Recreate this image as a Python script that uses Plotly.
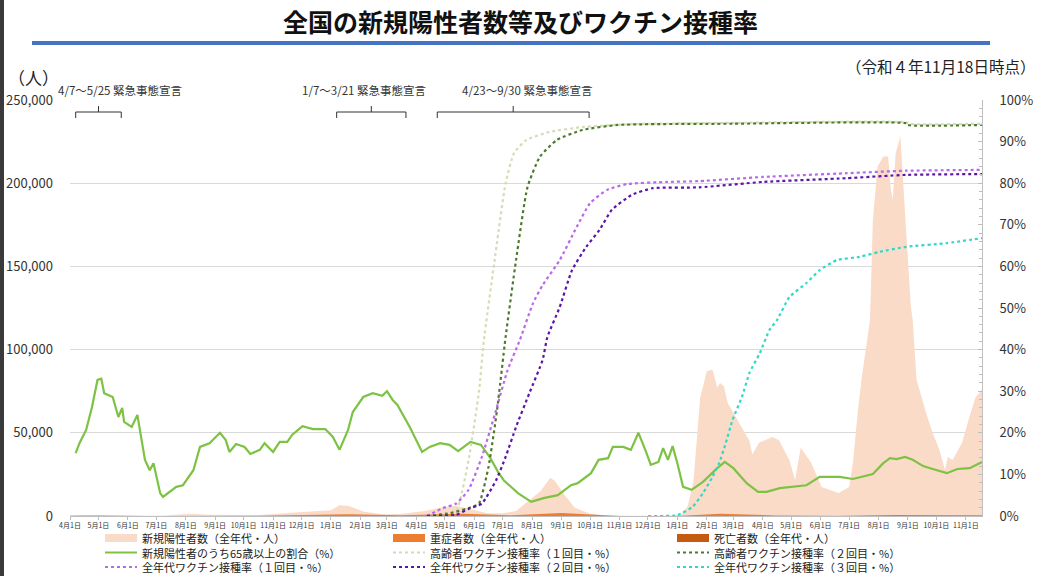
# 全国の新規陽性者数等及びワクチン接種率 (令和4年11月18日時点)

import pandas as pd
import plotly.graph_objs as go

FONT = "Noto Sans CJK JP"

# 新規陽性者数（全年代・人）
case_dates = ["2020-04-01", "2020-04-12", "2020-05-01", "2020-05-25", "2020-06-20", "2020-07-10",
              "2020-08-05", "2020-08-25", "2020-09-20", "2020-10-20", "2020-11-20", "2020-12-15",
              "2021-01-01", "2021-01-10", "2021-01-20", "2021-02-05", "2021-02-25", "2021-03-15",
              "2021-04-10", "2021-04-25", "2021-05-12", "2021-05-25", "2021-06-15", "2021-07-01",
              "2021-07-15", "2021-07-28", "2021-08-10", "2021-08-20", "2021-08-25", "2021-09-05",
              "2021-09-15", "2021-10-01", "2021-10-15", "2021-11-10", "2021-12-20", "2022-01-05",
              "2022-01-12", "2022-01-18", "2022-01-25", "2022-02-01", "2022-02-07", "2022-02-12",
              "2022-02-15", "2022-02-19", "2022-02-23", "2022-03-01", "2022-03-10", "2022-03-18",
              "2022-03-21", "2022-03-28", "2022-04-11", "2022-04-18", "2022-04-29", "2022-05-05",
              "2022-05-11", "2022-05-22", "2022-06-02", "2022-06-20", "2022-07-01", "2022-07-05",
              "2022-07-10", "2022-07-14", "2022-07-23", "2022-07-26", "2022-07-31", "2022-08-06",
              "2022-08-11", "2022-08-14", "2022-08-16", "2022-08-19", "2022-08-24", "2022-08-26",
              "2022-08-30", "2022-09-04", "2022-09-06", "2022-09-10", "2022-09-20", "2022-09-27",
              "2022-10-04", "2022-10-10", "2022-10-13", "2022-10-18", "2022-10-28", "2022-11-04",
              "2022-11-11", "2022-11-18"]
case_values = [300, 600, 300, 40, 70, 300,
               1400, 800, 500, 600, 2000, 2800,
               3500, 6500, 6000, 2500, 1000, 1200,
               3000, 4800, 6200, 4500, 1600, 1600,
               3000, 9000, 15000, 23000, 21000, 12000,
               5000, 1300, 500, 200, 200, 800,
               6000, 21000, 71000, 87000, 88000, 77000,
               80000, 78000, 68000, 62000, 53000, 45000,
               37000, 44000, 47500, 45700, 33700, 21600,
               41000, 32000, 17400, 13800, 17400, 31800,
               62000, 82000, 118000, 178000, 210000, 216000,
               216000, 196000, 190000, 218000, 228000, 208000,
               172000, 126000, 118000, 82000, 62000, 50000,
               40000, 27600, 35500, 33700, 44000, 58000,
               71000, 76000]

# 重症者数・死亡者数（全年代・人）
severe_dates = ["2020-04-01", "2020-05-01", "2020-07-01", "2020-08-20", "2020-10-15", "2021-01-20",
                "2021-03-15", "2021-05-20", "2021-07-10", "2021-09-01", "2021-11-01", "2022-01-01",
                "2022-02-15", "2022-04-15", "2022-06-20", "2022-08-20", "2022-10-15", "2022-11-18"]
severe_values = [100, 300, 50, 250, 150, 1000, 400, 1300, 400, 1800, 70, 40,
                 1400, 300, 60, 600, 150, 250]
death_values = [5, 20, 2, 12, 8, 90, 40, 110, 20, 60, 5, 2,
                240, 50, 15, 330, 60, 90]

# 新規陽性者のうち65歳以上の割合（%）
share_dates = ["2020-04-07", "2020-04-11", "2020-04-18", "2020-04-24", "2020-04-30", "2020-05-04",
               "2020-05-07", "2020-05-16", "2020-05-22", "2020-05-26", "2020-05-28", "2020-06-05",
               "2020-06-11", "2020-06-14", "2020-06-19", "2020-06-24", "2020-06-28", "2020-07-05",
               "2020-07-08", "2020-07-22", "2020-07-29", "2020-08-09", "2020-08-16", "2020-08-26",
               "2020-09-06", "2020-09-12", "2020-09-16", "2020-09-23", "2020-10-02", "2020-10-08",
               "2020-10-18", "2020-10-23", "2020-11-01", "2020-11-08", "2020-11-16", "2020-11-21",
               "2020-12-02", "2020-12-13", "2020-12-26", "2021-01-03", "2021-01-10", "2021-01-19",
               "2021-01-24", "2021-02-04", "2021-02-14", "2021-02-24", "2021-03-01", "2021-03-07",
               "2021-03-12", "2021-03-25", "2021-04-07", "2021-04-15", "2021-04-26", "2021-05-06",
               "2021-05-15", "2021-05-28", "2021-06-08", "2021-06-18", "2021-06-26", "2021-07-02",
               "2021-07-17", "2021-07-31", "2021-08-13", "2021-08-28", "2021-09-11", "2021-09-18",
               "2021-10-02", "2021-10-10", "2021-10-20", "2021-10-25", "2021-11-05", "2021-11-13",
               "2021-11-21", "2021-11-29", "2021-12-04", "2021-12-12", "2021-12-17", "2021-12-22",
               "2021-12-27", "2022-01-01", "2022-01-07", "2022-01-16", "2022-01-28", "2022-02-12",
               "2022-02-20", "2022-03-01", "2022-03-15", "2022-03-27", "2022-04-05", "2022-04-19",
               "2022-05-03", "2022-05-17", "2022-05-31", "2022-06-21", "2022-07-05", "2022-07-15",
               "2022-07-26", "2022-08-06", "2022-08-13", "2022-08-20", "2022-08-29", "2022-09-06",
               "2022-09-17", "2022-09-27", "2022-10-12", "2022-10-23", "2022-11-05", "2022-11-18"]
share_values = [15.1, 17.5, 20.7, 26.0, 32.7, 33.0,
                29.5, 28.6, 23.8, 26.0, 22.6, 21.4,
                24.3, 20.2, 13.5, 11.0, 12.7, 5.5,
                4.6, 7.0, 7.4, 11.0, 16.6, 17.5,
                20.0, 18.3, 15.4, 17.3, 16.6, 14.9,
                15.9, 17.5, 15.4, 17.8, 17.8, 19.5,
                21.6, 20.9, 20.9, 19.0, 15.9, 20.7,
                25.0, 28.6, 29.5, 28.9, 30.0, 27.9,
                26.7, 21.4, 15.4, 16.6, 17.5, 17.1,
                15.6, 17.8, 17.1, 13.9, 10.6, 8.6,
                5.5, 3.4, 4.3, 5.0, 7.4, 7.9,
                10.3, 13.5, 13.9, 16.6, 16.6, 15.9,
                20.0, 15.4, 12.3, 13.0, 16.3, 13.5,
                16.8, 12.7, 7.0, 6.3, 8.2, 11.5,
                13.0, 11.5, 7.9, 5.8, 5.8, 6.7,
                7.0, 7.4, 9.4, 9.4, 8.9, 9.4,
                10.1, 12.7, 13.9, 13.7, 14.2, 13.5,
                12.0, 11.3, 10.3, 11.3, 11.5, 13.0]

# 高齢者ワクチン接種率（１回目・%）
eld1_dates = ["2021-04-12", "2021-04-26", "2021-05-13", "2021-05-26", "2021-06-06", "2021-06-11",
              "2021-06-22", "2021-07-04", "2021-07-13", "2021-07-26", "2021-08-19", "2021-09-23",
              "2021-11-15", "2022-03-01", "2022-08-31", "2022-09-01", "2022-11-18"]
eld1_values = [0, 0.4, 1.4, 13.5, 30.0, 42.0, 60.8, 80.0, 87.3, 90.4, 92.3, 93.5,
               94.2, 94.5, 94.6, 94.3, 94.3]

# 高齢者ワクチン接種率（２回目・%）
eld2_dates = ["2021-04-12", "2021-05-07", "2021-05-30", "2021-06-06", "2021-06-16", "2021-06-25",
              "2021-07-04", "2021-07-15", "2021-07-27", "2021-08-09", "2021-08-27", "2021-09-23",
              "2021-10-30", "2022-03-01", "2022-08-31", "2022-09-01", "2022-11-18"]
eld2_values = [0, 0.7, 2.2, 3.0, 11.8, 25.5, 43.0, 61.5, 79.0, 86.3, 90.4, 92.8,
               94.0, 94.3, 94.4, 94.0, 94.0]

# 全年代ワクチン接種率（１回目・%）
all1_dates = ["2021-04-12", "2021-04-29", "2021-05-13", "2021-05-26", "2021-06-09", "2021-06-24",
              "2021-07-06", "2021-07-19", "2021-08-02", "2021-08-12", "2021-08-30", "2021-09-17",
              "2021-10-01", "2021-10-19", "2021-11-09", "2021-12-21", "2022-01-24", "2022-04-01",
              "2022-06-28", "2022-08-30", "2022-11-18"]
all1_values = [0, 1.9, 3.0, 6.3, 14.2, 25.5, 35.0, 42.3, 51.2, 55.5, 61.5, 69.5,
               75.2, 78.4, 79.8, 80.3, 80.5, 81.5, 82.4, 83.0, 83.2]

# 全年代ワクチン接種率（２回目・%）
all2_dates = ["2021-04-12", "2021-05-13", "2021-05-26", "2021-06-09", "2021-06-24", "2021-07-04",
              "2021-07-15", "2021-07-29", "2021-08-12", "2021-08-17", "2021-08-30", "2021-09-12",
              "2021-09-27", "2021-10-11", "2021-10-24", "2021-11-14", "2021-12-06", "2022-01-24",
              "2022-04-01", "2022-06-28", "2022-08-30", "2022-11-18"]
all2_values = [0, 0.3, 1.7, 3.0, 8.6, 14.2, 21.4, 29.5, 37.5, 43.0, 50.2, 59.1,
               64.7, 68.8, 73.6, 77.2, 78.8, 79.0, 80.3, 81.2, 82.0, 82.2]

# 全年代ワクチン接種率（３回目・%）
all3_dates = ["2021-12-01", "2022-01-01", "2022-01-17", "2022-01-28", "2022-02-07", "2022-02-14",
              "2022-02-21", "2022-02-28", "2022-03-10", "2022-03-18", "2022-03-29", "2022-04-08",
              "2022-04-16", "2022-04-29", "2022-05-17", "2022-05-31", "2022-06-18", "2022-07-12",
              "2022-08-02", "2022-08-30", "2022-10-12", "2022-11-18"]
all3_values = [0, 0.2, 2.2, 5.5, 9.4, 12.7, 17.5, 23.0, 28.6, 34.4, 39.2, 44.7,
               47.1, 52.6, 56.0, 59.1, 61.5, 62.3, 63.5, 64.7, 65.6, 66.8]

# 緊急事態宣言
decl_starts = ["2020-04-07", "2021-01-07", "2021-04-23"]
decl_ends = ["2020-05-25", "2021-03-21", "2021-09-30"]
decl_labels = ["4/7～5/25 緊急事態宣言", "1/7～3/21 緊急事態宣言", "4/23～9/30 緊急事態宣言"]


# page pixels -> paper coords (plot area 70..982 x 100..516)
def px_x(p):
    return (p - 70) / 912.0


def px_y(p):
    return (516 - p) / 416.0


fig = go.Figure()
legend_items = []  # (name, kind, color, dash)

fig.add_trace(go.Scatter(x=case_dates, y=case_values, mode="lines", fill="tozeroy",
                         line=dict(width=0, color="#FADBC8"), fillcolor="#FADBC8",
                         name="新規陽性者数（全年代・人）"))
legend_items.append(("新規陽性者数（全年代・人）", "rect", "#FADBC8", None))
fig.add_trace(go.Scatter(x=severe_dates, y=severe_values, mode="lines", fill="tozeroy",
                         line=dict(width=0, color="#ED7D31"), fillcolor="#ED7D31",
                         name="重症者数（全年代・人）"))
legend_items.append(("重症者数（全年代・人）", "rect", "#ED7D31", None))
fig.add_trace(go.Scatter(x=severe_dates, y=death_values, mode="lines", fill="tozeroy",
                         line=dict(width=0, color="#C55A11"), fillcolor="#C55A11",
                         name="死亡者数（全年代・人）"))
legend_items.append(("死亡者数（全年代・人）", "rect", "#C55A11", None))

fig.add_trace(go.Scatter(x=share_dates, y=share_values, mode="lines", yaxis="y2",
                         line=dict(width=2.2, color="#7DC242"),
                         name="新規陽性者のうち65歳以上の割合（%）"))
legend_items.append(("新規陽性者のうち65歳以上の割合（%）", "line", "#7DC242", "solid"))

dotted = [
    (eld1_dates, eld1_values, "#D3DDB5", "高齢者ワクチン接種率（１回目・%）"),
    (eld2_dates, eld2_values, "#4E7A2E", "高齢者ワクチン接種率（２回目・%）"),
    (all1_dates, all1_values, "#B968E8", "全年代ワクチン接種率（１回目・%）"),
    (all2_dates, all2_values, "#5E14A8", "全年代ワクチン接種率（２回目・%）"),
    (all3_dates, all3_values, "#2FD9C8", "全年代ワクチン接種率（３回目・%）"),
]
for xs, ys, col, nm in dotted:
    fig.add_trace(go.Scatter(x=xs, y=ys, mode="lines", yaxis="y2", name=nm,
                             line=dict(width=2.2, color=col, dash="dot", shape="spline", smoothing=0.5)))
    legend_items.append((nm, "line", col, "dot"))

# brackets for the declarations
shapes = []
annotations = []
for s, e, lab, sh in zip(decl_starts, decl_ends, decl_labels, [22, -7, 14]):
    s_ts, e_ts = pd.Timestamp(s), pd.Timestamp(e)
    mid = s_ts + (e_ts - s_ts) / 2
    ln = dict(color="#333333", width=1)
    shapes.append(dict(type="line", xref="x", yref="paper", x0=s_ts, x1=e_ts, y0=px_y(112), y1=px_y(112), line=ln))
    shapes.append(dict(type="line", xref="x", yref="paper", x0=s_ts, x1=s_ts, y0=px_y(112), y1=px_y(118), line=ln))
    shapes.append(dict(type="line", xref="x", yref="paper", x0=e_ts, x1=e_ts, y0=px_y(112), y1=px_y(118), line=ln))
    shapes.append(dict(type="line", xref="x", yref="paper", x0=mid, x1=mid, y0=px_y(112), y1=px_y(106), line=ln))
    annotations.append(dict(text=lab, xref="x", yref="paper", x=mid, y=px_y(90), xshift=sh,
                            xanchor="center", yanchor="middle", showarrow=False,
                            font=dict(size=11.5, color="#333333")))

# legend drawn by hand: 3 columns x 3 rows, like the slide
col_x = [105, 393, 677]
row_y = [538, 552.5, 567]
for i, (nm, kind, col, dash) in enumerate(legend_items):
    cx, cy = col_x[i % 3], row_y[i // 3]
    if kind == "rect":
        shapes.append(dict(type="rect", xref="paper", yref="paper", x0=px_x(cx), x1=px_x(cx + 32),
                           y0=px_y(cy + 4), y1=px_y(cy - 4), fillcolor=col, line=dict(width=0)))
    else:
        shapes.append(dict(type="line", xref="paper", yref="paper", x0=px_x(cx), x1=px_x(cx + 32),
                           y0=px_y(cy), y1=px_y(cy), line=dict(color=col, width=2, dash=dash)))
    annotations.append(dict(text=nm, xref="paper", yref="paper", x=px_x(cx + 35), y=px_y(cy),
                            xanchor="left", yanchor="middle", showarrow=False,
                            font=dict(size=11, color="#222222")))

# title underline
shapes.append(dict(type="line", xref="paper", yref="paper", x0=px_x(32), x1=px_x(990), y0=px_y(43), y1=px_y(43),
                   line=dict(color="#4472C4", width=4)))
# slide edge
shapes.append(dict(type="rect", xref="paper", yref="paper", x0=px_x(0), x1=px_x(4), y0=px_y(576), y1=px_y(0),
                   fillcolor="#3A3A3A", line=dict(width=0), layer="above"))

annotations += [
    dict(text="<b>全国の新規陽性者数等及びワクチン接種率</b>", xref="paper", yref="paper",
         x=px_x(520), y=px_y(21), xanchor="center", yanchor="middle", showarrow=False,
         font=dict(size=25, color="#111111")),
    dict(text="（令和４年11月18日時点）", xref="paper", yref="paper", x=px_x(1037), y=px_y(66),
         xanchor="right", yanchor="middle", showarrow=False, font=dict(size=15.5, color="#222222")),
    dict(text="（人）", xref="paper", yref="paper", x=px_x(6), y=px_y(77),
         xanchor="left", yanchor="middle", showarrow=False, font=dict(size=17, color="#222222")),
]

fig.update_layout(
    width=1039, height=576,
    font=dict(family=FONT, color="#333333"),
    paper_bgcolor="white", plot_bgcolor="white",
    margin=dict(l=70, r=57, t=100, b=60, autoexpand=False),
    showlegend=False,
    xaxis=dict(type="date", range=["2020-04-01", "2022-11-18"], tick0="2020-04-01", dtick="M1",
               tickformat="%-m月%-d日", tickangle=0, tickfont=dict(size=7, color="#333333"),
               ticks="outside", ticklen=3, tickcolor="#BFBFBF",
               showline=True, linecolor="#BFBFBF", showgrid=False, zeroline=False),
    yaxis=dict(range=[0, 250000], dtick=50000, tickformat=",d", tickfont=dict(size=13, color="#333333"),
               showgrid=True, gridcolor="#D9D9D9", gridwidth=1, zeroline=False, showline=False,
               ticklabelstandoff=16),
    yaxis2=dict(range=[0, 100], dtick=10, ticksuffix="%", overlaying="y", side="right",
                tickfont=dict(size=13, color="#333333"), showgrid=False, zeroline=False,
                showline=True, linecolor="#BFBFBF", ticks="inside", ticklen=4, tickcolor="#BFBFBF",
                minor=dict(dtick=2, ticks="inside", ticklen=3, tickcolor="#BFBFBF"),
                ticklabelstandoff=14),
    shapes=shapes,
    annotations=annotations,
)

# page body without its default 8px margin, so the figure fills the window
fig.write_html("out.html", config={"displayModeBar": False},
               post_script="document.body.style.margin='0px';")
